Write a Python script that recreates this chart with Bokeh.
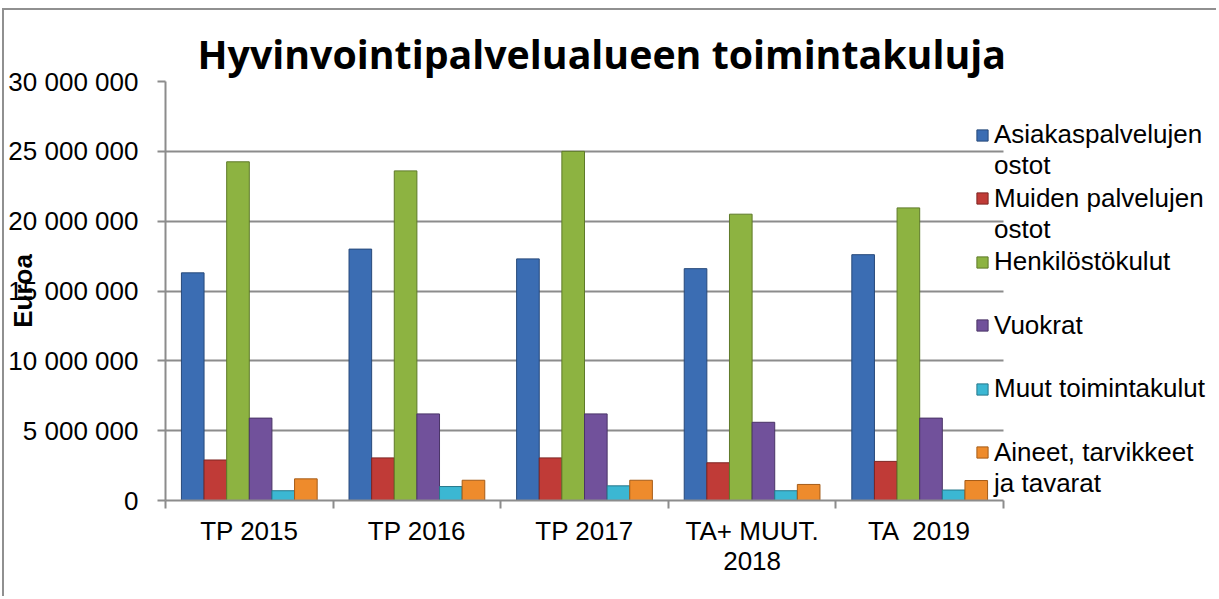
from bokeh.plotting import figure
from bokeh.models import (Range1d, FixedTicker, Legend, LegendItem, BoxAnnotation)
from bokeh.embed import file_html
from bokeh.resources import INLINE

# ---- data ----
categories = ["TP 2015", "TP 2016", "TP 2017", "TA+ MUUT.\n2018", "TA \u00a02019"]
series_names = ["Asiakaspalvelujen\nostot", "Muiden palvelujen\nostot", "Henkilöstökulut",
                "Vuokrat", "Muut toimintakulut", "Aineet, tarvikkeet\nja tavarat"]
asiakaspalvelut = [16300000, 18000000, 17300000, 16600000, 17600000]
muut_palvelut = [2900000, 3050000, 3050000, 2700000, 2800000]
henkilosto = [24250000, 23600000, 25000000, 20500000, 20950000]
vuokrat = [5900000, 6200000, 6200000, 5600000, 5900000]
muut_kulut = [700000, 1000000, 1050000, 700000, 750000]
aineet = [1550000, 1450000, 1450000, 1150000, 1430000]
y_ticks = [0, 5000000, 10000000, 15000000, 20000000, 25000000, 30000000]
y_tick_labels = ["0", "5 000 000", "10 000 000", "15 000 000", "20 000 000", "25 000 000", "30 000 000"]

series_values = [asiakaspalvelut, muut_palvelut, henkilosto, vuokrat, muut_kulut, aineet]
fill_colors = ["#3b6db3", "#c03b37", "#8db341", "#71519b", "#3bb7d3", "#ee8b2c"]
line_colors = ["#27497a", "#7e2522", "#5e7a29", "#4a3467", "#27788b", "#a55c18"]

FONT = "Liberation Sans"
GRAY = "#8c8c8c"

n = len(categories)
p = figure(width=1214, height=588, output_backend="svg", toolbar_location=None,
           x_range=Range1d(-0.5, -0.5 + 1053 / 167.6), y_range=Range1d(0, 30000000),
           min_border_left=161, min_border_right=0, min_border_top=71, min_border_bottom=98,
           title="Hyvinvointipalvelualueen toimintakuluja")
p.styles = {"margin-left": "2px", "margin-top": "8px",
            "border-left": "2px solid #909090", "border-top": "2px solid #909090"}
p.outline_line_color = None
p.background_fill_color = "white"

p.title.align = "left"
p.title.offset = 32
p.title.standoff = 2
p.title.text_font = "Open Sans"
p.title.text_font_style = "bold"
p.title.text_font_size = "39.3px"
p.title.text_color = "black"

bar_w = 0.135
renderers = []
for k, vals in enumerate(series_values):
    off = (k - 2.5) * bar_w
    xs = [i + off for i in range(n)]
    r = p.vbar(x=xs, top=vals, bottom=0, width=bar_w, fill_color=fill_colors[k],
               line_color=line_colors[k], line_width=1)
    renderers.append(r)

# mask gridlines right of the category area (legend zone)
p.add_layout(BoxAnnotation(left=n - 0.5, fill_color="white", fill_alpha=1.0,
                           line_color=None, level="glyph"))

# axes
xt = FixedTicker(ticks=list(range(n)), minor_ticks=[i - 0.5 for i in range(n + 1)])
p.xaxis.ticker = xt
p.xaxis.bounds = (-0.5, n - 0.5)
p.xaxis.major_label_overrides = {i: c for i, c in enumerate(categories)}
p.xaxis.major_tick_line_color = None
p.xaxis.major_tick_out = 0
p.xaxis.major_tick_in = 0
p.xaxis.minor_tick_line_color = GRAY
p.xaxis.minor_tick_line_width = 2
p.xaxis.minor_tick_out = 8
p.xaxis.minor_tick_in = 0
p.xaxis.axis_line_color = GRAY
p.xaxis.axis_line_width = 2
p.xaxis.major_label_text_font = FONT
p.xaxis.major_label_text_font_size = "26px"
p.xaxis.major_label_text_color = "black"
p.xaxis.major_label_text_line_height = 1.0
p.xaxis.major_label_standoff = 7

yt = FixedTicker(ticks=y_ticks, minor_ticks=[])
p.yaxis.ticker = yt
p.yaxis.major_label_overrides = {t: l for t, l in zip(y_ticks, y_tick_labels)}
p.yaxis.major_tick_line_color = GRAY
p.yaxis.major_tick_line_width = 2
p.yaxis.major_tick_out = 8
p.yaxis.major_tick_in = 0
p.yaxis.minor_tick_line_color = None
p.yaxis.axis_line_color = GRAY
p.yaxis.axis_line_width = 2
p.yaxis.major_label_text_font = FONT
p.yaxis.major_label_text_font_size = "26px"
p.yaxis.major_label_text_color = "black"
p.yaxis.major_label_standoff = 19
p.yaxis.axis_label = "Euroa"
p.yaxis.axis_label_text_font = FONT
p.yaxis.axis_label_text_font_style = "bold"
p.yaxis.axis_label_text_font_size = "26px"
p.yaxis.axis_label_text_color = "black"
p.yaxis.axis_label_standoff = -33

p.xgrid.visible = False
p.ygrid.ticker = yt
p.ygrid.grid_line_color = GRAY
p.ygrid.grid_line_width = 2

# one legend entry per box; multi-line labels get a blank first line so that
# the square sits beside the first text line, as in the original chart
ITEM_H = 96
PITCH = 63.5
for k, (s, r) in enumerate(zip(series_names, renderers)):
    lab = ("\u00a0\n" + s) if "\n" in s else s
    lg = Legend(items=[LegendItem(label=lab, renderers=[r])],
                location=(810, (len(series_names) - 1 - k) * PITCH), orientation="vertical",
                padding=0, margin=0, border_line_color=None, background_fill_alpha=0,
                glyph_width=14, glyph_height=14, label_standoff=5,
                label_text_font=FONT, label_text_font_size="26px", label_text_color="black",
                label_height=ITEM_H, spacing=0, label_text_line_height=1.2)
    p.add_layout(lg, "center")

open("out.html", "w").write(file_html(p, INLINE))
